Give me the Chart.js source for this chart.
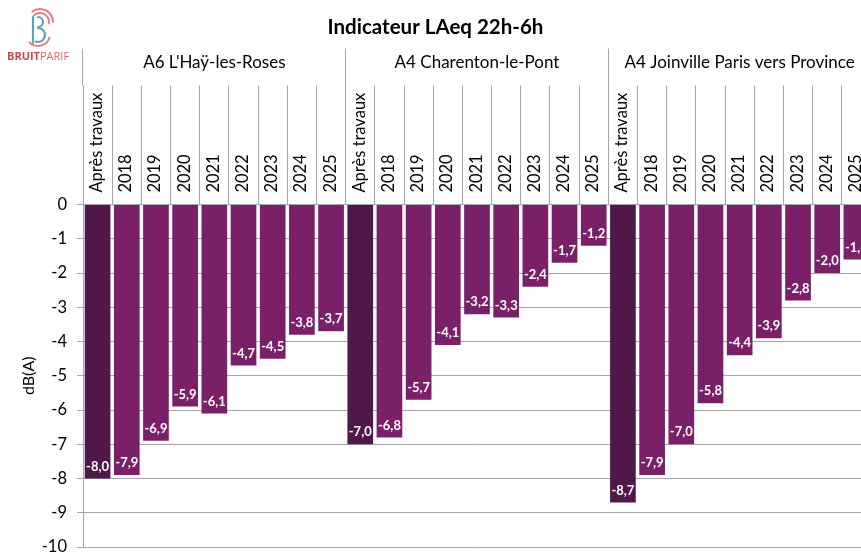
<!DOCTYPE html>
<html>
<head>
<meta charset="utf-8">
<script src="https://cdn.jsdelivr.net/npm/chart.js@4.4.0/dist/chart.umd.min.js"></script>
<style>
  html, body { margin: 0; padding: 0; overflow: hidden; background: #fff; }
  canvas { display: block; }
</style>
</head>
<body>
<canvas id="chart" width="880" height="556"></canvas>
<script>
// sites (groups of bars) and periods inside each site
const sites = ["A6 L'Haÿ-les-Roses", "A4 Charenton-le-Pont", "A4 Joinville Paris vers Province"];
const periods = ['Après travaux', '2018', '2019', '2020', '2021', '2022', '2023', '2024', '2025'];

// gain LAeq 22h-6h en dB(A)
const hayLesRoses = [-8.0, -7.9, -6.9, -5.9, -6.1, -4.7, -4.5, -3.8, -3.7];
const charenton = [-7.0, -6.8, -5.7, -4.1, -3.2, -3.3, -2.4, -1.7, -1.2];
const joinville = [-8.7, -7.9, -7.0, -5.8, -4.4, -3.9, -2.8, -2.0, -1.6];

const darkBar = '#4f1848';
const bar = '#7a2069';
const gridGray = '#a6a6a6';

const labels = [];
sites.forEach(() => periods.forEach(p => labels.push(p)));
const values = hayLesRoses.concat(charenton, joinville);
const colors = labels.map(l => l === 'Après travaux' ? darkBar : bar);

Chart.defaults.font.family = 'Lato, "Open Sans", sans-serif';
Chart.defaults.color = '#000';

// white value inside the end of each bar, french decimal comma
const valueLabels = {
    id: 'valueLabels',
    afterDatasetsDraw(chart) {
        const ctx = chart.ctx;
        const meta = chart.getDatasetMeta(0);
        ctx.save();
        ctx.font = 'bold 13px Lato, sans-serif';
        ctx.fillStyle = '#fff';
        ctx.textAlign = 'center';
        ctx.textBaseline = 'middle';
        meta.data.forEach((el, i) => {
            const txt = values[i].toFixed(1).replace('.', ',');
            ctx.fillText(txt, el.x, el.y - 12);
        });
        ctx.restore();
    }
};

// Bruitparif logo, top-left corner
const logo = {
    id: 'logo',
    afterDraw(chart) {
        const ctx = chart.ctx;
        ctx.save();
        ctx.lineCap = 'round';
        // pink sound waves
        ctx.strokeStyle = '#e07f86';
        ctx.lineWidth = 2;
        ctx.beginPath(); ctx.arc(40, 22, 9, -Math.PI * 0.75, Math.PI * 0.05); ctx.stroke();
        ctx.beginPath(); ctx.arc(40, 22, 13, -Math.PI * 0.7, Math.PI * 0.0); ctx.stroke();
        ctx.beginPath(); ctx.arc(38, 34, 12, Math.PI * 0.1, Math.PI * 0.75); ctx.stroke();
        // teal B
        ctx.strokeStyle = '#5ea5b3';
        ctx.lineWidth = 2.2;
        ctx.beginPath(); ctx.moveTo(33, 17); ctx.lineTo(33, 43); ctx.stroke();
        ctx.beginPath(); ctx.arc(38, 22, 5, -Math.PI / 2, Math.PI / 2); ctx.stroke();
        ctx.beginPath(); ctx.arc(38, 35, 7, -Math.PI / 2, Math.PI * 0.6); ctx.stroke();
        // text
        ctx.textBaseline = 'middle';
        ctx.textAlign = 'left';
        ctx.font = 'bold 11px "Open Sans", sans-serif';
        ctx.fillStyle = '#c9434c';
        ctx.fillText('BRUIT', 7, 57);
        const w = ctx.measureText('BRUIT').width;
        ctx.font = '11px "Open Sans", sans-serif';
        ctx.fillStyle = '#d5676e';
        ctx.fillText('PARIF', 7 + w, 57);
        ctx.restore();
    }
};

const ctx = document.getElementById('chart').getContext('2d');
new Chart(ctx, {
    type: 'bar',
    data: {
        labels: labels,
        datasets: [{
            data: values,
            backgroundColor: colors,
            barPercentage: 0.88,
            categoryPercentage: 1
        }]
    },
    options: {
        responsive: false,
        animation: false,
        layout: { padding: { left: 0, right: 9, top: 0, bottom: 0 } },
        plugins: {
            legend: { display: false },
            tooltip: { enabled: false },
            title: {
                display: true,
                text: 'Indicateur LAeq 22h-6h',
                font: { size: 20.5, weight: 'bold' },
                color: '#000',
                padding: { top: 15, bottom: 9 }
            }
        },
        scales: {
            x: {
                position: 'top',
                offset: true,
                weight: 0,
                grid: { offset: true, drawOnChartArea: false, tickLength: 119, color: gridGray },
                border: { color: gridGray },
                ticks: { minRotation: 90, maxRotation: 90, autoSkip: false, padding: -107, labelOffset: 19, font: { size: 16.5 } },
                afterFit: s => { s.height = 119; }
            },
            x2: {
                type: 'category',
                labels: sites,
                position: 'top',
                offset: true,
                weight: 1,
                grid: { offset: true, drawOnChartArea: false, tickLength: 37, color: gridGray },
                border: { display: false },
                ticks: { maxRotation: 0, autoSkip: false, padding: -24, font: { size: 17 } },
                afterFit: s => { s.height = 37; }
            },
            y: {
                min: -10,
                max: 0,
                ticks: { stepSize: 1, padding: 10, font: { size: 16.5 } },
                grid: { color: gridGray, tickLength: 6 },
                border: { color: gridGray },
                title: { display: true, text: 'dB(A)', font: { size: 16 }, padding: { top: 19, bottom: 0 } },
                afterFit: s => { s.width = 83; s.paddingBottom = 9; }
            }
        }
    },
    plugins: [valueLabels, logo]
});
</script>
</body>
</html>
